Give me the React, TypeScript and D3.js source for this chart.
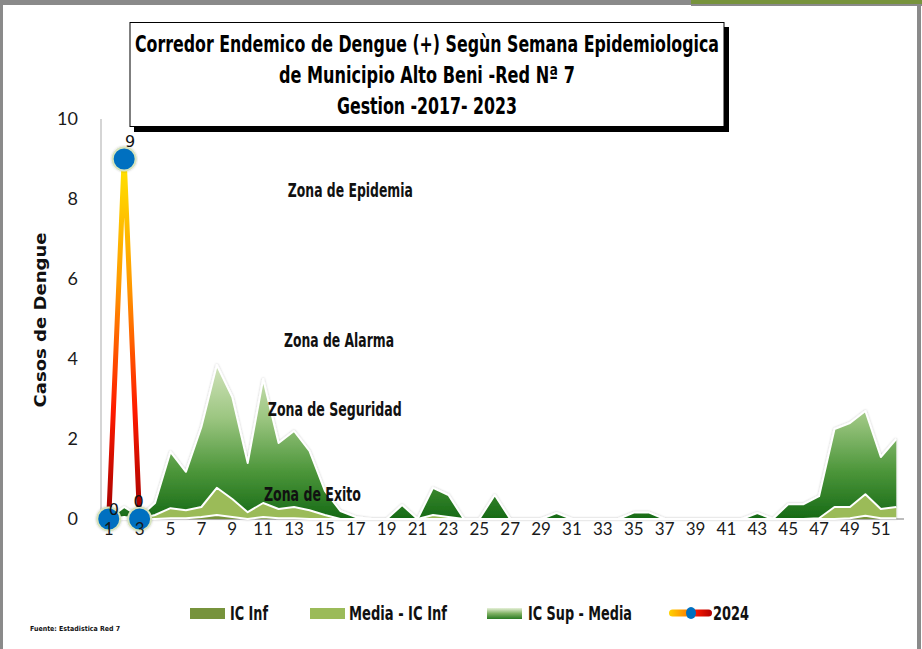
import React from "react";
import * as d3 from "d3";

// Epidemiological weeks 1..52
const weeks: number[] = d3.range(1, 53);
const tickWeeks: number[] = weeks.filter((w) => w % 2 === 1);
const yTicks: number[] = [0, 2, 4, 6, 8, 10];

// Stacked layer thicknesses per week (cases)
const icInf: number[] = [
  0, 0, 0, 0, 0.02, 0.02, 0.05, 0.1, 0.05, 0, 0.05, 0.02, 0.02, 0, 0, 0, 0, 0, 0, 0,
  0, 0, 0, 0, 0, 0, 0, 0, 0, 0, 0, 0, 0, 0, 0, 0, 0, 0, 0, 0,
  0, 0, 0, 0, 0, 0, 0, 0, 0.02, 0.08, 0.02, 0.02,
];
const mediaMinusInf: number[] = [
  0, 0.05, 0, 0.1, 0.25, 0.2, 0.25, 0.68, 0.45, 0.17, 0.35, 0.23, 0.28, 0.22, 0.1, 0, 0, 0, 0, 0,
  0, 0.1, 0.05, 0, 0, 0, 0, 0, 0, 0, 0, 0, 0, 0, 0, 0, 0, 0, 0, 0,
  0, 0, 0, 0, 0, 0, 0.02, 0.3, 0.28, 0.54, 0.23, 0.28,
];
const supMinusMedia: number[] = [
  0, 0.25, 0.05, 0.3, 1.41, 0.96, 2.0, 3.07, 2.55, 1.23, 3.1, 1.65, 1.9, 1.48, 0.6, 0.2, 0.05, 0, 0, 0.35,
  0, 0.68, 0.55, 0, 0, 0.6, 0, 0, 0, 0.15, 0, 0, 0, 0, 0.16, 0.16, 0, 0, 0, 0,
  0, 0, 0.15, 0, 0.37, 0.37, 0.55, 1.95, 2.1, 2.08, 1.3, 1.7,
];

// 2024 observed cases
const cases2024Weeks: number[] = [1, 2, 3];
const cases2024: number[] = [0, 9, 0];

const seriesKeys = ["icInf", "mediaMinusInf", "supMinusMedia"] as const;
const legendLabels: string[] = ["IC Inf", "Media - IC Inf", "IC Sup - Media", "2024"];

const titleLines: string[] = [
  "Corredor Endemico de  Dengue (+) Segùn Semana Epidemiologica",
  "de Municipio  Alto Beni -Red Nª 7",
  "Gestion -2017- 2023",
];

const zoneLabels: string[] = ["Zona de Epidemia", "Zona de Alarma", "Zona de Seguridad", "Zona de Exito"];
// anchor week / level for each zone label
const zoneWeeks: number[] = [12.6, 12.35, 11.3, 11.05];
const zoneLevels: number[] = [8.05, 4.3, 2.57, 0.45];

const W = 922;
const H = 649;
const plot = { left: 101, right: 904, top: 119, bottom: 519 };

const narrow = "'Liberation Sans Narrow', 'DejaVu Sans Condensed', 'Open Sans', sans-serif";
const tickFont = "Lato, 'Open Sans', sans-serif";

export default function App() {
  const x = d3
    .scaleBand<number>()
    .domain(weeks)
    .range([plot.left, plot.right])
    .paddingInner(0)
    .paddingOuter(0);
  const cx = (w: number) => (x(w) as number) + x.bandwidth() / 2;
  const xc = d3
    .scaleLinear()
    .domain([1, 52])
    .range([cx(1), cx(52)]);
  const y = d3.scaleLinear().domain([0, 10]).range([plot.bottom, plot.top]);

  const rows = weeks.map((w, i) => ({
    week: w,
    icInf: icInf[i],
    mediaMinusInf: mediaMinusInf[i],
    supMinusMedia: supMinusMedia[i],
  }));
  const stacked = d3.stack<any>().keys(seriesKeys as any)(rows);

  const area = d3
    .area<any>()
    .x((d) => cx(d.data.week))
    .y0((d) => y(d[0]))
    .y1((d) => y(d[1]));
  const topLine = d3
    .line<any>()
    .x((d) => cx(d.data.week))
    .y((d) => y(d[1]));

  const fills = ["#77933C", "#9BBB59", "url(#supGrad)"];

  const line2024 = d3
    .line<number>()
    .x((_, i) => cx(cases2024Weeks[i]))
    .y((v) => y(v));

  // label nudges for the 2024 data labels
  const labelNudge = [
    { dx: 5, dy: -4 },
    { dx: 6, dy: -12 },
    { dx: -1, dy: -12 },
  ];

  const zoneWidths = [125, 110, 134, 97];
  const legendY = 613;
  const legendFont = 20;

  return (
    <svg
      width={W}
      height={H}
      viewBox={`0 0 ${W} ${H}`}
      style={{ position: "absolute", left: 0, top: 0, background: "#fff" }}
    >
      <defs>
        <linearGradient
          id="supGrad"
          gradientUnits="userSpaceOnUse"
          x1={0}
          x2={0}
          y1={y(3.9)}
          y2={y(0)}
        >
          <stop offset="0" stopColor="#d3e4bd" />
          <stop offset="0.35" stopColor="#9cc681" />
          <stop offset="0.7" stopColor="#4b9539" />
          <stop offset="1" stopColor="#166a16" />
        </linearGradient>
        <linearGradient id="supGradLegend" x1="0" x2="0" y1="0" y2="1">
          <stop offset="0" stopColor="#e6f0d8" />
          <stop offset="0.5" stopColor="#7fb163" />
          <stop offset="1" stopColor="#2a7a22" />
        </linearGradient>
        <linearGradient
          id="lineGrad"
          gradientUnits="userSpaceOnUse"
          x1={0}
          x2={0}
          y1={y(9)}
          y2={y(0)}
        >
          <stop offset="0" stopColor="#ffe600" />
          <stop offset="0.35" stopColor="#ff9900" />
          <stop offset="0.7" stopColor="#ff1a00" />
          <stop offset="1" stopColor="#a00000" />
        </linearGradient>
        <linearGradient id="lineGradLegend" x1="0" x2="1" y1="0" y2="0">
          <stop offset="0" stopColor="#ffd200" />
          <stop offset="0.4" stopColor="#ff8a00" />
          <stop offset="0.6" stopColor="#ff1a00" />
          <stop offset="1" stopColor="#b00000" />
        </linearGradient>
        <filter id="soft" x="-10%" y="-10%" width="120%" height="120%">
          <feDropShadow dx="0" dy="0" stdDeviation="1.2" floodColor="#000" floodOpacity="0.25" />
        </filter>
      </defs>

      <rect x={0} y={0} width={W} height={H} fill="#fff" />

      {/* outer frame */}
      <rect x={0} y={0} width={691} height={5} fill="#8a8a8a" />
      <rect x={691} y={0} width={W - 691} height={4} fill="#77933C" />
      <rect x={691} y={4} width={W - 691} height={2} fill="#8a8a8a" />
      <rect x={0} y={0} width={3} height={H} fill="#8a8a8a" />
      <rect x={917} y={4} width={4} height={H - 4} fill="#8a8a8a" />

      {/* axes */}
      <line x1={plot.left} x2={plot.left} y1={plot.top} y2={plot.bottom} stroke="#bfbfbf" strokeWidth={1.3} />
      <line x1={plot.left} x2={plot.right} y1={plot.bottom} y2={plot.bottom} stroke="#a6a6a6" strokeWidth={1.3} />

      {/* stacked endemic channel */}
      <g filter="url(#soft)">
        {stacked.map((s, i) => (
          <path key={`a${i}`} d={area(s) as string} fill={fills[i]} />
        ))}
        {stacked.map((s, i) => (
          <path
            key={`l${i}`}
            d={topLine(s) as string}
            fill="none"
            stroke="#ffffff"
            strokeWidth={2}
            strokeLinejoin="round"
          />
        ))}
      </g>

      {/* y ticks */}
      {yTicks.map((t) => (
        <text
          key={`yt${t}`}
          x={78}
          y={y(t)}
          dy="0.35em"
          textAnchor="end"
          fontFamily={tickFont}
          fontSize={18}
          fill="#1a1a1a"
        >
          {t}
        </text>
      ))}

      {/* y axis title */}
      <text
        transform={`translate(46,320) rotate(-90)`}
        textAnchor="middle"
        fontFamily="'DejaVu Sans', Verdana, sans-serif"
        fontWeight="bold"
        fontSize={16}
        textLength={175}
        lengthAdjust="spacingAndGlyphs"
        fill="#111"
      >
        Casos de Dengue
      </text>

      {/* zone labels */}
      {zoneLabels.map((z, i) => (
        <text
          key={z}
          x={xc(zoneWeeks[i])}
          y={y(zoneLevels[i])}
          fontFamily={narrow}
          fontWeight="bold"
          fontSize={20}
          fill="#111"
          textLength={zoneWidths[i]}
          lengthAdjust="spacingAndGlyphs"
        >
          {z}
        </text>
      ))}

      {/* 2024 line */}
      <path
        d={line2024(cases2024) as string}
        fill="none"
        stroke="#ffffff"
        strokeOpacity={0.8}
        strokeWidth={8}
        strokeLinejoin="round"
      />
      <path
        d={line2024(cases2024) as string}
        fill="none"
        stroke="url(#lineGrad)"
        strokeWidth={5}
        strokeLinejoin="round"
      />
      {cases2024.map((v, i) => (
        <circle
          key={`m${i}`}
          cx={cx(cases2024Weeks[i])}
          cy={y(v)}
          r={11.5}
          fill="#0070C0"
          stroke="#d7e4bd"
          strokeWidth={2}
          filter="url(#soft)"
        />
      ))}
      {cases2024.map((v, i) => (
        <text
          key={`dl${i}`}
          x={cx(cases2024Weeks[i]) + labelNudge[i].dx}
          y={y(v) + labelNudge[i].dy}
          textAnchor="middle"
          fontFamily="'DejaVu Sans', sans-serif"
          fontSize={16}
          fill="#111"
        >
          {v}
        </text>
      ))}

      {/* x ticks */}
      {tickWeeks.map((w) => (
        <text
          key={`xt${w}`}
          x={cx(w)}
          y={535}
          textAnchor="middle"
          fontFamily={tickFont}
          fontSize={17}
          fill="#1a1a1a"
        >
          {w}
        </text>
      ))}

      {/* title box */}
      <rect x={134} y={27} width={595} height={105} fill="#000" />
      <rect x={130} y={22.5} width={594} height={104} fill="#fff" stroke="#000" strokeWidth={1} />
      {titleLines.map((t, i) => (
        <text
          key={`t${i}`}
          x={427}
          y={52 + i * 31}
          textAnchor="middle"
          fontFamily={narrow}
          fontWeight="bold"
          fontSize={23}
          fill="#000"
          textLength={[584, 296, 180][i]}
          lengthAdjust="spacingAndGlyphs"
        >
          {t}
        </text>
      ))}

      {/* legend */}
      <rect x={190} y={legendY - 5} width={35} height={11} fill="#77933C" />
      <text x={230} y={legendY + 7} fontFamily={narrow} fontWeight="bold" fontSize={legendFont} fill="#111" textLength={38} lengthAdjust="spacingAndGlyphs">
        {legendLabels[0]}
      </text>
      <rect x={310} y={legendY - 5} width={35} height={11} fill="#9BBB59" />
      <text x={349} y={legendY + 7} fontFamily={narrow} fontWeight="bold" fontSize={legendFont} fill="#111" textLength={98} lengthAdjust="spacingAndGlyphs">
        {legendLabels[1]}
      </text>
      <rect x={487} y={legendY - 5} width={35} height={11} fill="url(#supGradLegend)" />
      <text x={528} y={legendY + 7} fontFamily={narrow} fontWeight="bold" fontSize={legendFont} fill="#111" textLength={104} lengthAdjust="spacingAndGlyphs">
        {legendLabels[2]}
      </text>
      <rect x={669} y={legendY - 3.5} width={43} height={7} rx={3.5} fill="url(#lineGradLegend)" />
      <ellipse cx={691} cy={legendY} rx={5} ry={6} fill="#0070C0" />
      <text x={713} y={legendY + 7} fontFamily={narrow} fontWeight="bold" fontSize={legendFont} fill="#111" textLength={36} lengthAdjust="spacingAndGlyphs">
        {legendLabels[3]}
      </text>

      {/* source note */}
      <text x={30} y={631} fontFamily="'DejaVu Sans', sans-serif" fontWeight="bold" fontSize={7} fill="#111" textLength={90} lengthAdjust="spacingAndGlyphs">
        Fuente:  Estadistica  Red 7
      </text>
    </svg>
  );
}
